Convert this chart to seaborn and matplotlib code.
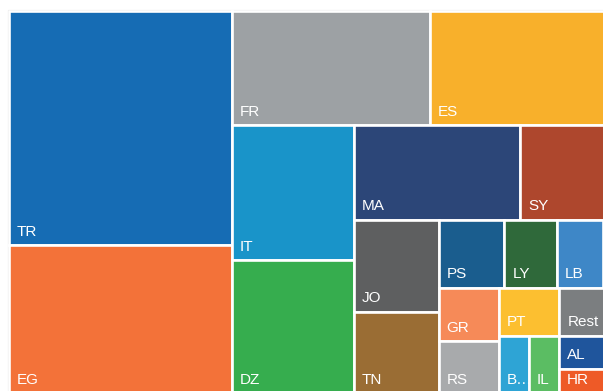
import matplotlib
matplotlib.use("Agg")
import matplotlib.pyplot as plt
from matplotlib.patches import Rectangle
import seaborn as sns

# Country shares, listed in drawing order (largest first)
codes = ["TR", "EG", "FR", "ES", "IT", "DZ", "MA", "SY", "JO", "TN", "PS",
         "LY", "LB", "GR", "RS", "PT", "Rest", "B…", "IL", "AL", "HR"]
values = [52360, 33160, 22696, 19952, 16458, 16324, 15699, 7854, 7801, 6962, 4461,
          3597, 3148, 3220, 3170, 2907, 2114, 1760, 1730, 1490, 1120]
colors = ["#166cb4", "#f37239", "#9da1a4", "#f8b02b", "#1994c9", "#36ad4e",
          "#2c4678", "#ae472d", "#5e5f60", "#9a6d34", "#1a5d8e", "#2f693a",
          "#3e87c7", "#f68a58", "#a8aaac", "#fcbf30", "#7b7e80", "#2ea4d5",
          "#5bbd63", "#1f559c", "#ee5a27"]


def squarify(vals, x0, y0, x1, y1, ratio=1.0):
    """Squarified treemap: returns (x, y, w, h) for each value, in order."""
    rects = [None] * len(vals)
    remaining = float(sum(vals))
    n = len(vals)
    i0 = 0
    while i0 < n:
        dx, dy = x1 - x0, y1 - y0
        i1 = i0
        s = float(vals[i1])
        i1 += 1
        vmin = vmax = s
        alpha = max(dy / dx, dx / dy) / (remaining * ratio)
        beta = s * s * alpha
        best = max(vmax / beta, beta / vmin)
        while i1 < n:
            v = float(vals[i1])
            s2 = s + v
            lo, hi = min(vmin, v), max(vmax, v)
            beta = s2 * s2 * alpha
            r = max(hi / beta, beta / lo)
            if r > best:
                break
            s, vmin, vmax, best = s2, lo, hi, r
            i1 += 1
        if dx < dy:
            # strip across the top
            h = dy * s / remaining
            x = x0
            for k in range(i0, i1):
                w = dx * vals[k] / s
                rects[k] = (x, y0, w, h)
                x += w
            y0 += h
        else:
            # strip down the left side
            w = dx * s / remaining
            y = y0
            for k in range(i0, i1):
                h = dy * vals[k] / s
                rects[k] = (x0, y, w, h)
                y += h
            x0 += w
        remaining -= s
        i0 = i1
    return rects


sns.set_theme(style="white")
plt.rcParams["font.family"] = ["Liberation Sans", "DejaVu Sans"]

W, H = 603, 391
fig = plt.figure(figsize=(W / 100, H / 100), dpi=100)
ax = fig.add_axes([0, 0, 1, 1])
ax.set_xlim(0, W)
ax.set_ylim(H, 0)
ax.axis("off")

# chart frame
ax.add_patch(Rectangle((7.5, 9.5), 700, 500, fill=False,
                       edgecolor="#cfcfcf", linewidth=0.8, zorder=1))

tiles = squarify(values, 9, 10.5, 603.5, 394, ratio=0.92)
for (x, y, w, h), code, col in zip(tiles, codes, colors):
    ax.add_patch(Rectangle((x, y), w, h, facecolor=col, edgecolor="white",
                           linewidth=1.9, zorder=2))
    ax.text(x + 8, y + h - 9.5, code, color="white", fontsize=11,
            ha="left", va="baseline", zorder=3)

fig.savefig("out.png", dpi=100)
